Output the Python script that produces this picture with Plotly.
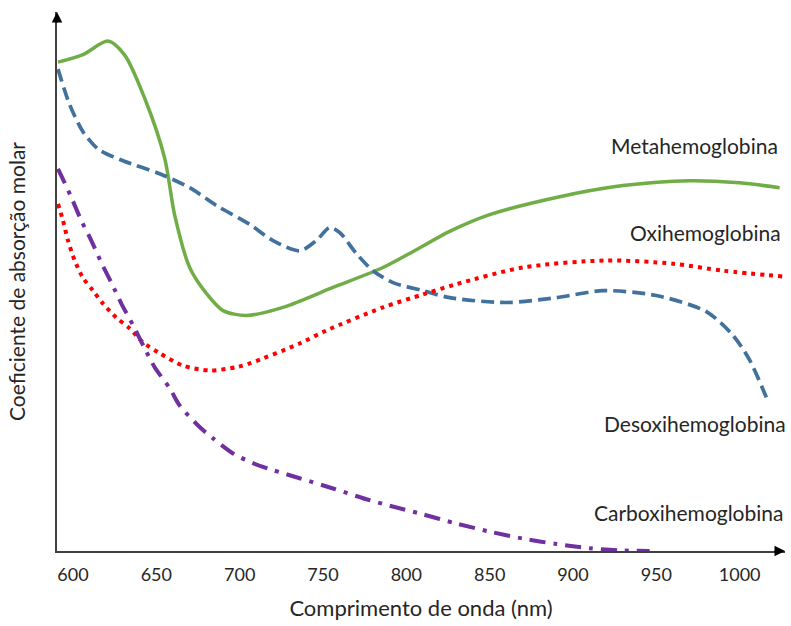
import plotly.graph_objects as go

# Wavelength (nm) and molar absorption (arbitrary units, 0-100)
meta_x = [591, 606, 621, 631, 643, 655, 661, 670, 680, 690, 704, 726, 756, 786, 806, 826, 850, 890, 930, 970, 1000, 1024]
meta_y = [90.7, 92.1, 94.6, 92.0, 84.0, 72.9, 62.3, 52.6, 47.8, 44.6, 43.7, 45.2, 48.9, 52.6, 55.9, 59.3, 62.4, 65.6, 67.8, 68.7, 68.3, 67.4]

desoxi_x = [591, 598, 606, 615, 630, 652, 670, 686, 706, 720, 736, 746, 754, 760, 770, 780, 792, 810, 826, 860, 890, 918, 950, 980, 996, 1006, 1016]
desoxi_y = [89.4, 82.8, 77.8, 74.6, 72.4, 70.0, 67.4, 64.1, 60.6, 57.6, 55.7, 57.6, 60.0, 59.1, 55.2, 52.0, 49.8, 48.3, 47.0, 46.1, 47.0, 48.3, 47.4, 44.4, 40.0, 35.4, 28.5]

oxi_x = [591, 594, 597, 601, 606, 612, 618, 626, 634, 642, 652, 666, 682, 698, 706, 736, 752, 786, 810, 830, 870, 920, 960, 990, 1027]
oxi_y = [64.4, 61.3, 57.6, 53.9, 50.7, 48.3, 45.9, 43.3, 41.3, 38.7, 36.7, 34.4, 33.5, 34.1, 34.8, 38.5, 40.9, 45.2, 47.6, 49.5, 52.6, 53.9, 53.3, 52.0, 50.9]

carboxi_x = [591, 595, 599, 605, 611, 617, 623, 629, 636, 643, 649, 658, 664, 676, 684, 696, 708, 720, 736, 756, 776, 790, 810, 830, 850, 870, 890, 910, 930, 946]
carboxi_y = [70.9, 68.3, 65.6, 61.3, 57.6, 53.5, 49.8, 45.9, 41.9, 37.6, 34.1, 30.2, 27.0, 23.0, 20.9, 18.1, 16.3, 15.0, 13.5, 11.6, 9.6, 8.4, 6.8, 5.1, 3.6, 2.3, 1.3, 0.5, 0.1, 0.0]

tick_vals = [600, 650, 700, 750, 800, 850, 900, 950, 1000]
labels = ["Metahemoglobina", "Oxihemoglobina", "Desoxihemoglobina", "Carboxihemoglobina"]

FONT = "Lato, Open Sans, sans-serif"
AXIS = "#404040"
TXT = "#262626"

fig = go.Figure()
fig.add_trace(go.Scatter(x=meta_x, y=meta_y, mode="lines", cliponaxis=False,
                         line=dict(color="#70AD47", width=3.5, shape="spline", smoothing=0.8)))
fig.add_trace(go.Scatter(x=desoxi_x, y=desoxi_y, mode="lines", cliponaxis=False,
                         line=dict(color="#41719C", width=3.7, shape="spline", smoothing=0.8, dash="13px,6px")))
fig.add_trace(go.Scatter(x=oxi_x, y=oxi_y, mode="lines", cliponaxis=False,
                         line=dict(color="#FF0000", width=4, shape="spline", smoothing=0.8, dash="4px,5px")))
fig.add_trace(go.Scatter(x=carboxi_x, y=carboxi_y, mode="lines", cliponaxis=False,
                         line=dict(color="#7030A0", width=4, shape="spline", smoothing=0.8, dash="16px,8px,4px,8px")))

label_pos = [(0.993, 0.753), (0.997, 0.590), (1.004, 0.237), (1.0, 0.072)]
for txt, (lx, ly) in zip(labels, label_pos):
    fig.add_annotation(x=lx, y=ly, xref="paper", yref="paper", text=txt, showarrow=False,
                       xanchor="right", yanchor="middle", font=dict(family=FONT, size=21, color=TXT))

# axis arrowheads
fig.add_annotation(x=1, y=0, xref="paper", yref="paper", ax=-12, ay=0, text="", showarrow=True,
                   arrowhead=2, arrowsize=1.4, arrowwidth=1.5, arrowcolor="#000000", standoff=0)
fig.add_annotation(x=0, y=1, xref="paper", yref="paper", ax=0, ay=12, text="", showarrow=True,
                   arrowhead=2, arrowsize=1.4, arrowwidth=1.5, arrowcolor="#000000", standoff=0)

fig.update_layout(
    width=791, height=626,
    margin=dict(l=57, r=6, t=12, b=75),
    paper_bgcolor="white", plot_bgcolor="white",
    showlegend=False,
    font=dict(family=FONT, color=AXIS),
    xaxis=dict(range=[590.4, 1027.2], tickvals=tick_vals, ticks="", showgrid=False, zeroline=False,
               showline=True, linecolor=AXIS, linewidth=1.5, ticklabelstandoff=7,
               tickfont=dict(family=FONT, size=18, color=TXT),
               title=dict(text="Comprimento de onda (nm)", font=dict(family=FONT, size=22, color=TXT), standoff=16)),
    yaxis=dict(range=[0, 100], showticklabels=False, ticks="", showgrid=False, zeroline=False,
               showline=True, linecolor=AXIS, linewidth=1.5,
               title=dict(text="Coeficiente de absorção molar", font=dict(family=FONT, size=21, color=TXT), standoff=24)),
)

fig.write_html("out.html")
